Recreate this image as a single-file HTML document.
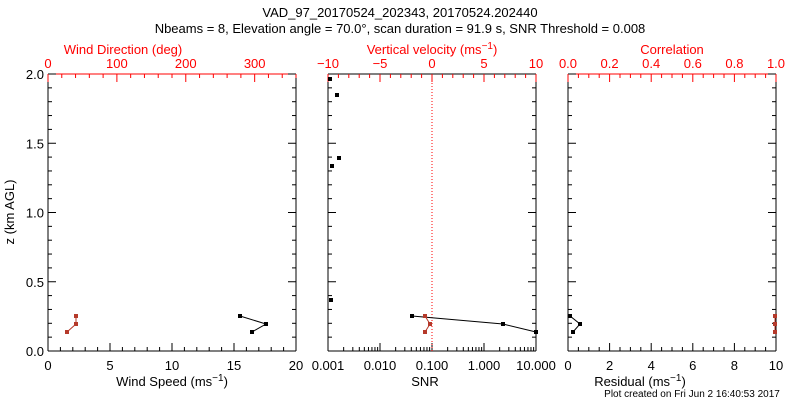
<!DOCTYPE html>
<html><head><meta charset="utf-8"><style>
html,body{margin:0;padding:0;background:#fff;}
svg text{font-family:"Liberation Sans",sans-serif;font-size:13px;}
</style></head><body>
<svg id="s" width="800" height="400" xmlns="http://www.w3.org/2000/svg">
<text x="400" y="17" text-anchor="middle">VAD_97_20170524_202343, 20170524.202440</text>
<text x="400" y="33" text-anchor="middle">Nbeams = 8, Elevation angle = 70.0°, scan duration = 91.9 s, SNR Threshold = 0.008</text>
<text x="123" y="54" text-anchor="middle" fill="#f00">Wind Direction (deg)</text>
<text x="432" y="54" text-anchor="middle" fill="#f00">Vertical velocity (ms<tspan dy="-5" font-size="10">−1</tspan><tspan dy="5">)</tspan></text>
<text x="672" y="54" text-anchor="middle" fill="#f00">Correlation</text>
<text x="172" y="386" text-anchor="middle">Wind Speed (ms<tspan dy="-5" font-size="10">−1</tspan><tspan dy="5">)</tspan></text>
<text x="425" y="386" text-anchor="middle">SNR</text>
<text x="640" y="386" text-anchor="middle">Residual (ms<tspan dy="-5" font-size="10">−1</tspan><tspan dy="5">)</tspan></text>
<text x="692" y="397" text-anchor="middle" style="font-size:10px">Plot created on Fri Jun  2 16:40:53 2017</text>
<text transform="translate(14,212) rotate(-90)" text-anchor="middle">z (km AGL)</text>
<g id="g"></g>
</svg>
<script>
const g=document.getElementById('g');let h='';
const T=74,B=351;const Y=z=>B-z*(B-T)/2;
function L(x1,y1,x2,y2,c,extra){h+=`<line x1="${x1}" y1="${y1}" x2="${x2}" y2="${y2}" stroke="${c}" stroke-width="1" ${extra||''}/>`;}
function Tx(x,y,s,c,a){h+=`<text x="${x}" y="${y}" text-anchor="${a||'middle'}" fill="${c||'#000'}">${s}</text>`;}
const P=[[48,296],[328,536],[568,776]];
P.forEach(([a,b],i)=>{
 L(a,T,a,B,'#000');L(b,T,b,B,'#000');L(a,B,b,B,'#000');
 L(a,T,b,T,i==1?'#000':'#f00');
 for(let k=0;k<=20;k++){const y=Y(k*0.1);const len=k%5==0?8:4;L(a,y,a+len,y,'#000');L(b,y,b-len,y,'#000');}
});
for(let k=0;k<=4;k++)Tx(44,Y(k*0.5)+5,(k*0.5).toFixed(1),'#000','end');
for(let v=0;v<=20;v++){const x=48+v*12.4;L(x,B,x,B-(v%5==0?8:4),'#000');if(v%5==0)Tx(x,370,v);}
for(let v=0;v<=360;v+=20){const x=48+v*248/360;L(x,T,x,T+(v%100==0?8:4),'#f00');if(v%100==0)Tx(x,68,v,'#f00');}
for(let d=-3;d<=1;d++){for(let m=1;m<=9;m++){const v=m*Math.pow(10,d);if(d==1&&m>1)break;const x=328+(Math.log10(v)+3)*52;L(x,B,x,B-(m==1?8:4),'#000');}}
['0.001','0.010','0.100','1.000','10.000'].forEach((s,i)=>Tx(328+i*52,370,s));
for(let v=-10;v<=10;v++){const x=328+(v+10)*10.4;L(x,T,x,T+(v%5==0?8:4),'#f00');if(v%5==0)Tx(x,68,v<0?'−'+(-v):v,'#f00');}
L(432,T,432,B,'#f00','stroke-dasharray="1,2"');
for(let v=0;v<=10;v+=0.5){const x=568+v*20.8;L(x,B,x,B-(v%2==0?8:4),'#000');if(v%2==0)Tx(x,370,v);}
for(let k=0;k<=20;k++){const x=568+k*10.4;L(x,T,x,T+(k%4==0?8:4),'#f00');if(k%4==0)Tx(x,68,(k*0.05).toFixed(1),'#f00');}
function poly(pts,c){h+=`<polyline points="${pts.map(p=>p.join(',')).join(' ')}" fill="none" stroke="${c}" stroke-width="1"/>`;pts.forEach(p=>h+=`<rect x="${p[0]-2}" y="${p[1]-2}" width="4" height="4" fill="${c}"/>`);}
poly([[240,316],[266,324],[252,332]],'#000');
poly([[76,316],[76,324],[67,332]],'#b5392a');
poly([[412,316],[503,324],[536,332]],'#000');
poly([[425,316],[430,324],[425,332]],'#b5392a');
[[330,79],[337,95],[332,166],[339,158],[331,300]].forEach(p=>h+=`<rect x="${p[0]-2}" y="${p[1]-2}" width="4" height="4" fill="#000"/>`);
poly([[570,316],[580,324],[573,332]],'#000');
poly([[775,316],[775,324],[775,332]],'#b5392a');
g.innerHTML=h;
</script>
</body></html>
